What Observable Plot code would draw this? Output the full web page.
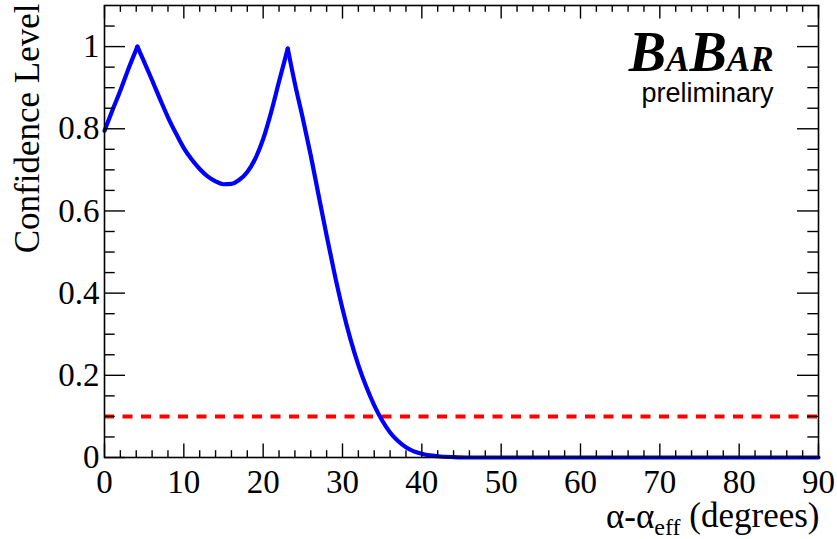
<!DOCTYPE html>
<html>
<head>
<meta charset="utf-8">
<script src="https://cdn.jsdelivr.net/npm/d3@7"></script>
<script src="https://cdn.jsdelivr.net/npm/@observablehq/plot@0.6"></script>
<style>
  html, body { margin: 0; padding: 0; background: #ffffff; }
  #chart svg { display: block; }
</style>
</head>
<body>
<div id="chart"></div>
<script>
// ---- data ----
const alphaDeg  = [0, 1, 2, 3, 4.15, 5, 6, 7, 8, 9, 10, 11, 12, 13, 14, 15, 16, 17, 18, 19, 20, 21, 22, 23.1, 24, 25, 26, 27, 28, 29, 30, 31, 32, 33, 34, 35, 36, 37, 38, 39, 40, 41, 42, 44, 46, 50, 60, 70, 80, 90];
const confLevel = [0.795, 0.845, 0.893, 0.945, 1.0, 0.963, 0.918, 0.872, 0.828, 0.789, 0.753, 0.725, 0.702, 0.684, 0.672, 0.665, 0.666, 0.676, 0.695, 0.727, 0.775, 0.84, 0.915, 0.995, 0.91, 0.825, 0.735, 0.637, 0.54, 0.447, 0.362, 0.288, 0.225, 0.172, 0.127, 0.09, 0.061, 0.04, 0.025, 0.015, 0.009, 0.005, 0.003, 0.001, 0, 0, 0, 0, 0, 0];
const cuspDeg = [4.15, 23.1];   // the two sharp maxima of the curve
const thresholdCL = [0.1];

const xMajorTicks = [0, 10, 20, 30, 40, 50, 60, 70, 80, 90];
const xMinorTicks = d3.range(0, 90.01, 2).filter(v => v % 10 !== 0);
const yMajorTicks = [0, 0.2, 0.4, 0.6, 0.8, 1];
const yMinorTicks = [0.05, 0.1, 0.15, 0.25, 0.3, 0.35, 0.45, 0.5, 0.55, 0.65, 0.7, 0.75, 0.85, 0.9, 0.95, 1.05];
const yTickLabels = ["0", "0.2", "0.4", "0.6", "0.8", "1"];
const xTickLabels = ["0", "10", "20", "30", "40", "50", "60", "70", "80", "90"];

const xTitleParts = ["\u03b1-\u03b1", "eff", " (degrees)"];
const yTitle = "Confidence Level";
const logoParts = ["B", "A", "B", "AR"];
const subLabel = "preliminary";

// ---- layout ----
const W = 837, H = 539;
const mL = 104, mR = 19, mT = 5, mB = 82;
const fw = W - mL - mR, fh = H - mT - mB;
const serif = "'Liberation Serif', 'Times New Roman', serif";
const sans = "'Liberation Sans', Arial, sans-serif";

// split the curve at the cusps so the smooth interpolation keeps them sharp
const pts = [];
alphaDeg.forEach((x, i) => {
  const seg = cuspDeg.filter(c => x > c).length;
  pts.push({x, y: confLevel[i], seg});
  if (cuspDeg.includes(x)) pts.push({x, y: confLevel[i], seg: seg + 1});
});
const tickStyle = {stroke: "black", strokeWidth: 1.4};

const chart = Plot.plot({
  width: W, height: H,
  marginLeft: mL, marginRight: mR, marginTop: mT, marginBottom: mB,
  style: {background: "white", fontFamily: serif, overflow: "visible"},
  x: {domain: [0, 90], axis: null},
  y: {domain: [0, 1.1], axis: null},
  marks: [
    Plot.ruleY(thresholdCL, {stroke: "#ff0000", strokeWidth: 4, strokeDasharray: "10,8.5"}),
    Plot.line(pts, {x: "x", y: "y", z: "seg", stroke: "#0000ff", strokeWidth: 4.2, curve: "monotone-x"}),
    // ticks (inward, all four sides)
    Plot.tickX(xMajorTicks, {x: d => d, insetTop: fh - 13.6, ...tickStyle}),
    Plot.tickX(xMajorTicks, {x: d => d, insetBottom: fh - 13.6, ...tickStyle}),
    Plot.tickX(xMinorTicks, {x: d => d, insetTop: fh - 6.8, ...tickStyle}),
    Plot.tickX(xMinorTicks, {x: d => d, insetBottom: fh - 6.8, ...tickStyle}),
    Plot.tickY(yMajorTicks, {y: d => d, insetRight: fw - 21, ...tickStyle}),
    Plot.tickY(yMajorTicks, {y: d => d, insetLeft: fw - 21, ...tickStyle}),
    Plot.tickY(yMinorTicks, {y: d => d, insetRight: fw - 10.7, ...tickStyle}),
    Plot.tickY(yMinorTicks, {y: d => d, insetLeft: fw - 10.7, ...tickStyle}),
    Plot.frame({stroke: "black", strokeWidth: 1.6}),
    // tick labels
    Plot.text(xMajorTicks, {x: d => d, text: (d, i) => xTickLabels[i], frameAnchor: "bottom", dy: 35,
      lineAnchor: "bottom", fontSize: 33, fontFamily: serif, fill: "black"}),
    Plot.text(yMajorTicks, {y: d => d, text: (d, i) => yTickLabels[i], frameAnchor: "left", dx: -5,
      textAnchor: "end", lineAnchor: "middle", fontSize: 33, fontFamily: serif, fill: "black"}),
    // axis titles
    Plot.text([yTitle], {frameAnchor: "top-left", dx: -66, dy: -2, rotate: -90, textAnchor: "end",
      lineAnchor: "bottom", fontSize: 35, fontFamily: serif, fill: "black"}),
    Plot.text([xTitleParts.join("")], {frameAnchor: "bottom-right", dx: 1, dy: 70, textAnchor: "end",
      lineAnchor: "bottom", fontSize: 35, fontFamily: serif, fill: "black"}),
    // logo
    Plot.text([logoParts.join("")], {frameAnchor: "top-right", dx: -45, dy: 65, textAnchor: "end",
      lineAnchor: "bottom", fontSize: 56, fontFamily: serif, fontWeight: "bold", fontStyle: "italic", fill: "black"}),
    Plot.text([subLabel], {frameAnchor: "top-right", dx: -45, dy: 96, textAnchor: "end",
      lineAnchor: "bottom", fontSize: 27, fontFamily: sans, fill: "black"})
  ]
});

// rich text: subscript in x title, small caps in logo
const texts = Array.from(chart.querySelectorAll("text"));
const xt = texts.find(t => t.textContent === xTitleParts.join(""));
if (xt) {
  xt.textContent = "";
  const s = d3.select(xt);
  s.append("tspan").text(xTitleParts[0]);
  s.append("tspan").attr("font-size", "24px").attr("dy", "0.3em").text(xTitleParts[1]);
  s.append("tspan").attr("dy", "-0.21em").text(xTitleParts[2]);
}
const lt = texts.find(t => t.textContent === logoParts.join(""));
if (lt) {
  lt.textContent = "";
  const s = d3.select(lt);
  const sizes = [56, 35, 56, 35];
  logoParts.forEach((p, i) => s.append("tspan").attr("font-size", sizes[i] + "px").text(p));
}

document.getElementById("chart").appendChild(chart);
</script>
</body>
</html>
